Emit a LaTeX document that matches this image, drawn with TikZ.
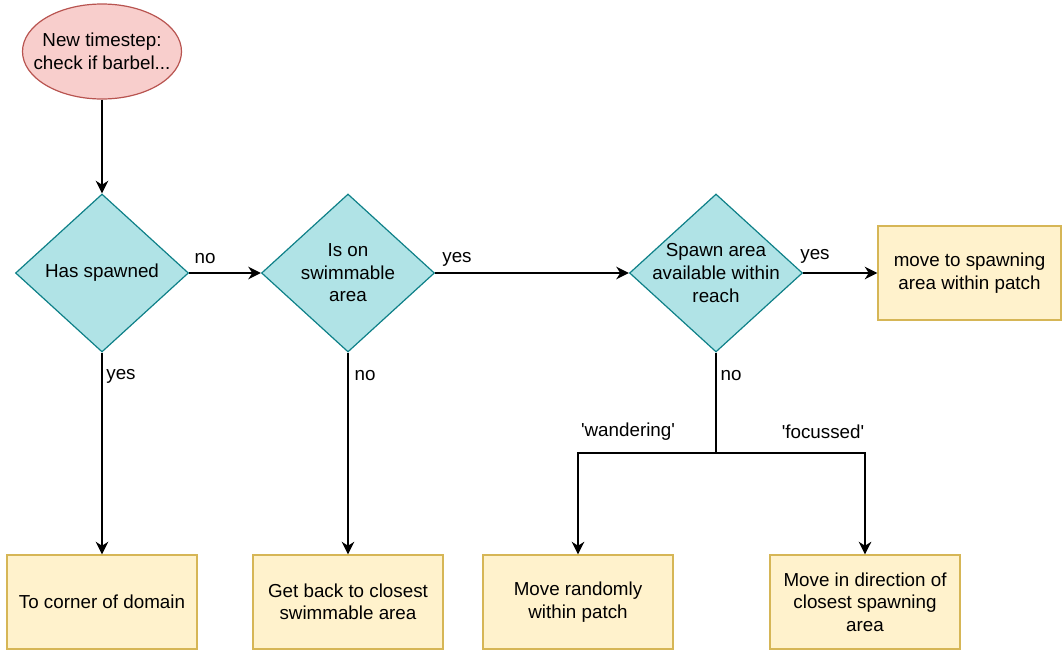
\documentclass[tikz,border=0pt]{standalone}
\usepackage{fontspec}
\setmainfont{Liberation Sans}
\usetikzlibrary{shapes.geometric,arrows.meta}
\begin{document}
\begin{tikzpicture}[x=0.75pt,y=-0.75pt,
  every node/.style={font=\fontsize{14.1}{16.9}\selectfont, align=center},
  startnode/.style={ellipse, draw=startline, fill=startfill, line width=0.9pt,
    minimum width=119.25pt, minimum height=71.25pt, inner sep=0pt},
  decision/.style={diamond, draw=decline, fill=decfill, line width=0.9pt,
    minimum width=129.75pt, minimum height=118.5pt, inner sep=0pt},
  action/.style={rectangle, draw=actline, fill=actfill, line width=0.9pt,
    minimum width=142.5pt, minimum height=70.5pt, inner sep=2pt},
  flow/.style={line width=1.15pt, -{Stealth[length=9.5pt,width=9.5pt,inset=3pt]}},
  plain/.style={line width=1.15pt},
  tag/.style={inner sep=0pt}
]
\definecolor{startfill}{HTML}{F8CECC}
\definecolor{startline}{HTML}{B85450}
\definecolor{decfill}{HTML}{B0E3E6}
\definecolor{decline}{HTML}{0E8088}
\definecolor{actfill}{HTML}{FFF2CC}
\definecolor{actline}{HTML}{D6B656}

\useasboundingbox (0,0) rectangle (1062,650);

% start and decisions
\node[startnode, label={[align=center]center:New timestep:\\check if barbel...}] (start) at (102,51.5) {};
\node[decision, label={[align=center]center:Has spawned}] (spawned) at (102,273) {};
\node[decision, label={[align=center]center:Is on\\swimmable\\area}] (swim) at (348,273) {};
\node[decision, label={[align=center]center:Spawn area\\available within\\reach}] (reach) at (716,273) {};

% actions
\node[action, minimum width=137.25pt] (patch) at (969.5,273) {move to spawning\\area within patch};
\node[action] (corner) at (102,602) {To corner of domain};
\node[action] (back) at (348,602) {Get back to closest\\swimmable area};
\node[action] (random) at (578,602) {Move randomly\\within patch};
\node[action] (focus) at (865,602) {Move in direction of\\closest spawning\\area};

\coordinate (split) at (716,453);

% connectors
\draw[flow] (start.south) -- (spawned.north);
\draw[flow] (spawned.east) -- (swim.west);
\draw[flow] (swim.east) -- (reach.west);
\draw[flow] (reach.east) -- (patch.west);
\draw[flow] (spawned.south) -- (corner.north);
\draw[flow] (swim.south) -- (back.north);
\draw[plain] (reach.south) -- (split);
\draw[flow] (split) -| (random.north);
\draw[flow] (split) -| (focus.north);

% edge labels
\node[tag] (l1) at (205,259) {no};
\node[tag] (l2) at (121,376) {yes};
\node[tag] (l3) at (457,259) {yes};
\node[tag] (l4) at (365,376) {no};
\node[tag] (l5) at (815,256) {yes};
\node[tag] (l6) at (731,376) {no};
\node[tag] (l7) at (628,432) {\textquotesingle wandering\textquotesingle};
\node[tag] (l8) at (823,432) {\textquotesingle focussed\textquotesingle};
\end{tikzpicture}
\end{document}
